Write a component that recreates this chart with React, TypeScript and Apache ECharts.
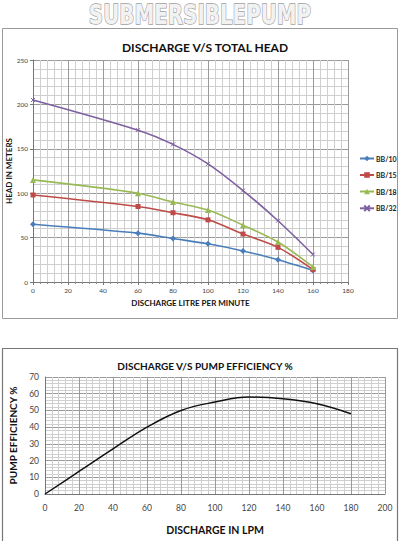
import React, { useEffect, useRef } from "react";
import * as echarts from "echarts";

const discharge = [0, 60, 80, 100, 120, 140, 160];
const bb10 = [65, 55, 49, 43, 35, 25, 13];
const bb15 = [98, 85, 78, 70, 54, 39, 14];
const bb18 = [115, 100, 90, 81, 64, 45, 17];
const bb32 = [205, 171, 155, 133, 103, 69, 31];
const seriesNames = ["BB/10", "BB/15", "BB/18", "BB/32"];

const effDischarge = [0, 20, 40, 60, 80, 100, 120, 140, 160, 180];
const efficiency = [0, 13.5, 27, 40, 50, 55, 58, 57, 54, 48];

const FONT = "Lato, 'Open Sans', sans-serif";

export default function App() {
  const ref = useRef<HTMLDivElement>(null);
  useEffect(() => {
    if (!ref.current) return;
    const chart = echarts.init(ref.current, null, { renderer: "svg" });
    const pair = (xs: number[], ys: number[]) => xs.map((x, i) => [x, ys[i]]);
    const colors = ["#4A7EBB", "#BE4B48", "#98B954", "#7D60A0"];
    const symbols = ["diamond", "rect", "triangle", "path://M0,0L10,10M10,0L0,10"];
    const topData = [bb10, bb15, bb18, bb32];

    const majorLine = { show: true, lineStyle: { color: "#9a9a9a", width: 1 } };
    const minorLine = { show: true, lineStyle: { color: "#cfcfcf", width: 1 } };

    chart.setOption({
      animation: false,
      backgroundColor: "#fff",
      textStyle: { fontFamily: FONT },
      graphic: [
        {
          type: "rect",
          shape: { x: 2.5, y: 28.5, width: 395, height: 290 },
          style: { fill: "none", stroke: "#9a9a9a", lineWidth: 1 },
          silent: true,
        },
        {
          type: "rect",
          shape: { x: 2.5, y: 348.5, width: 395, height: 210 },
          style: { fill: "none", stroke: "#777", lineWidth: 1.2 },
          silent: true,
        },
        {
          type: "text",
          x: 200,
          y: 15,
          scaleX: 0.85,
          style: {
            text: "SUBMERSIBLEPUMP",
            x: 0,
            y: 0,
            align: "center",
            verticalAlign: "middle",
            fontFamily: "'DejaVu Sans Condensed', 'DejaVu Sans', sans-serif",
            fontWeight: "bold",
            fontSize: 26,
            lineHeight: 26,
            fill: "#f2f2f2",
            stroke: "#a0a0a0",
            lineWidth: 1.3,
          },
        },
      ],
      title: [
        {
          text: "DISCHARGE V/S TOTAL HEAD",
          left: 200,
          textAlign: "center",
          top: 36,
          textStyle: { fontSize: 12, fontWeight: "bold", color: "#111", fontFamily: FONT },
        },
        {
          text: "DISCHARGE V/S PUMP EFFICIENCY %",
          left: 200,
          textAlign: "center",
          top: 356,
          textStyle: { fontSize: 10, fontWeight: "bold", color: "#111", fontFamily: FONT },
        },
      ],
      legend: {
        orient: "vertical",
        left: 359,
        top: 155,
        padding: 0,
        itemGap: 9.5,
        itemWidth: 14,
        itemHeight: 7,
        data: seriesNames,
        textStyle: { fontSize: 7, fontWeight: "bold", color: "#222", padding: [0, 0, 0, -3] },
      },
      grid: [
        { left: 33, right: 52, top: 60, bottom: 259, outerBoundsMode: "none" },
        { left: 45, right: 15, top: 377, bottom: 47, outerBoundsMode: "none" },
      ],
      xAxis: [
        {
          type: "value",
          gridIndex: 0,
          min: 0,
          max: 180,
          interval: 20,
          name: "DISCHARGE LITRE PER MINUTE",
          nameLocation: "middle",
          nameGap: 17,
          nameMoveOverlap: false,
          nameTextStyle: { fontSize: 8, fontWeight: "bold", color: "#111" },
          axisLine: { lineStyle: { color: "#777" } },
          axisTick: { show: true, length: 3, inside: false, lineStyle: { color: "#777" } },
          minorTick: { show: true, splitNumber: 5, length: 2, lineStyle: { color: "#888" } },
          axisLabel: { fontSize: 6.5, color: "#444", margin: 5 },
          splitLine: majorLine,
          minorSplitLine: minorLine,
        },
        {
          type: "value",
          gridIndex: 1,
          min: 0,
          max: 200,
          interval: 20,
          name: "DISCHARGE IN LPM",
          nameLocation: "middle",
          nameGap: 30,
          nameMoveOverlap: false,
          nameTextStyle: { fontSize: 10.5, fontWeight: "bold", color: "#111" },
          axisLine: { lineStyle: { color: "#777" } },
          axisTick: { show: false },
          minorTick: { show: false },
          axisLabel: { fontSize: 8.5, color: "#444", margin: 9 },
          splitLine: majorLine,
          minorSplitLine: minorLine,
        },
      ],
      yAxis: [
        {
          type: "value",
          gridIndex: 0,
          min: 0,
          max: 250,
          interval: 50,
          name: "HEAD IN METERS",
          nameLocation: "middle",
          nameGap: 20,
          nameMoveOverlap: false,
          nameTextStyle: { fontSize: 8, fontWeight: "bold", color: "#111" },
          axisLine: { show: true, lineStyle: { color: "#777" } },
          axisTick: { show: true, length: 3, lineStyle: { color: "#777" } },
          minorTick: { show: false },
          axisLabel: { fontSize: 6.5, color: "#444", margin: 5 },
          splitLine: majorLine,
          minorSplitLine: minorLine,
        },
        {
          type: "value",
          gridIndex: 1,
          min: 0,
          max: 70,
          interval: 10,
          name: "PUMP EFFICIENCY %",
          nameLocation: "middle",
          nameGap: 27,
          nameMoveOverlap: false,
          nameTextStyle: { fontSize: 10, fontWeight: "bold", color: "#111" },
          axisLine: { show: true, lineStyle: { color: "#777" } },
          axisTick: { show: false },
          minorTick: { show: false },
          axisLabel: { fontSize: 8.5, color: "#444", margin: 6 },
          splitLine: majorLine,
          minorSplitLine: minorLine,
        },
      ],
      series: [
        ...topData.map((d, i) => ({
          name: seriesNames[i],
          type: "line",
          xAxisIndex: 0,
          yAxisIndex: 0,
          data: pair(discharge, d),
          smooth: 0.3,
          symbol: symbols[i],
          symbolSize: i === 1 ? 5 : i === 3 ? 4 : 6,
          showSymbol: true,
          lineStyle: { color: colors[i], width: 1.6 },
          itemStyle: { color: colors[i], borderColor: colors[i], borderWidth: i === 3 ? 1 : 0 },
        })),
        {
          name: "Efficiency",
          type: "line",
          xAxisIndex: 1,
          yAxisIndex: 1,
          data: pair(effDischarge, efficiency),
          smooth: 0.4,
          showSymbol: false,
          symbol: "none",
          lineStyle: { color: "#111", width: 1.5 },
        },
      ],
    });
    return () => chart.dispose();
  }, []);
  return (
    <div
      ref={ref}
      style={{ position: "fixed", left: 0, top: 0, width: 400, height: 541, background: "#fff" }}
    />
  );
}
